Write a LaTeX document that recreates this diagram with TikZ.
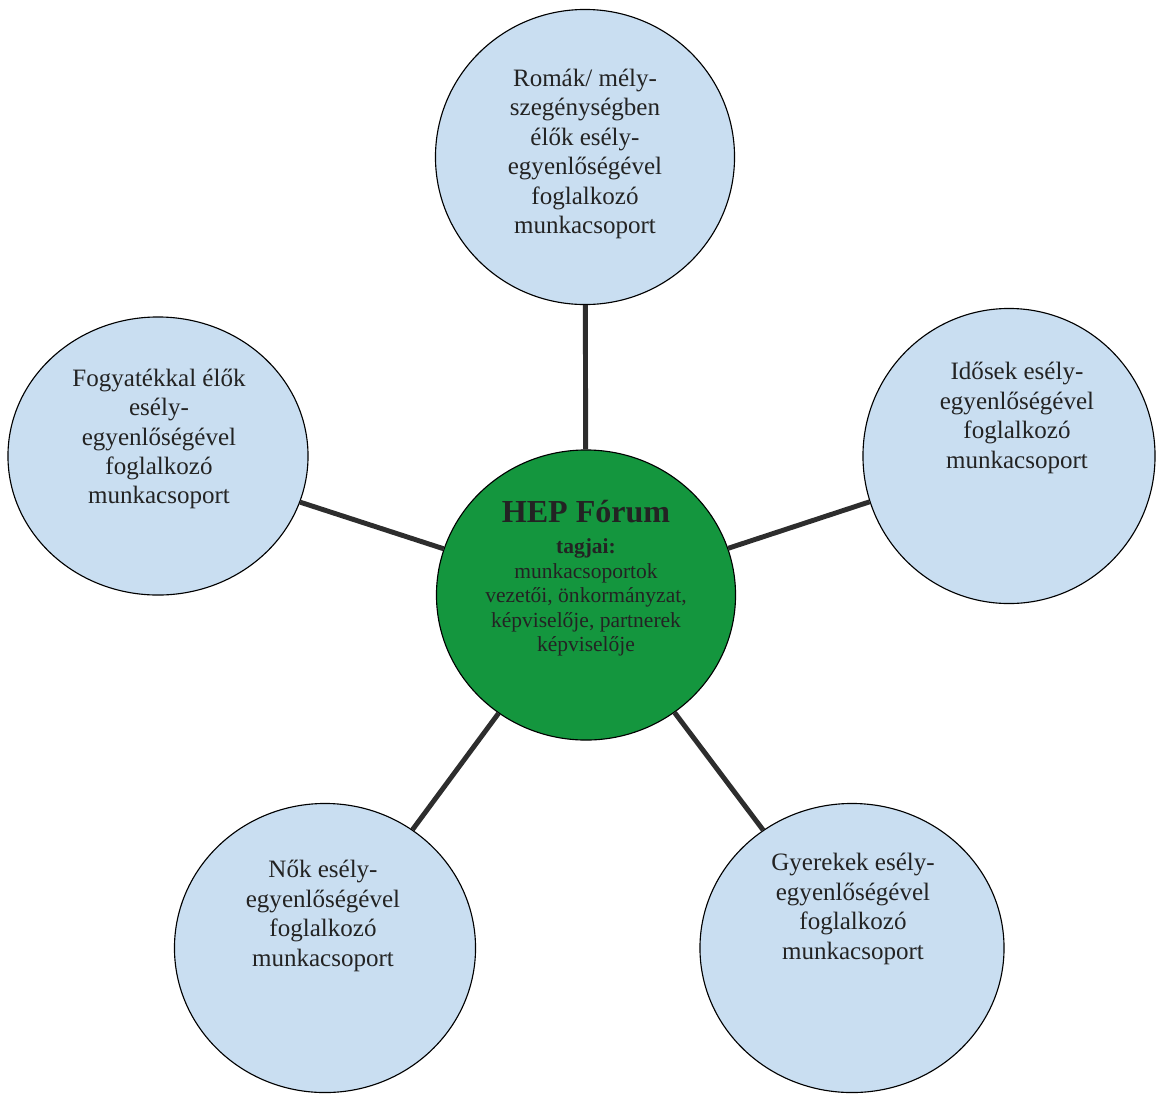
\documentclass[tikz,border=0pt]{standalone}
\usepackage{fontspec}
\setmainfont{Liberation Serif}
\usetikzlibrary{shapes.geometric}
\definecolor{grpblue}{RGB}{201,222,241}
\definecolor{hubgreen}{RGB}{20,150,62}
\definecolor{linkgray}{RGB}{45,45,45}
\definecolor{txtgray}{RGB}{35,35,35}
\begin{document}
\begin{tikzpicture}[x=0.025cm,y=-0.025cm,
  grp/.style={ellipse,draw,line width=0.8pt,fill=grpblue,inner sep=0pt},
  hubc/.style={ellipse,draw,line width=0.8pt,fill=hubgreen,inner sep=0pt,minimum width=7.475cm,minimum height=7.25cm},
  lbl/.style={align=center,text=txtgray,font=\fontsize{17.8}{20.9}\selectfont},
  hlbl/.style={align=center,text=txtgray,font=\fontsize{15.3}{17.4}\selectfont},
  link/.style={draw=linkgray,line width=3.5pt}]
  \useasboundingbox (0,0) rectangle (1156,1093);
  \node[hubc] (hub) at (586,595){};
  \node[grp,minimum width=7.475cm,minimum height=7.375cm] (roma) at (585,157){};
  \node[grp,minimum width=7.5cm,minimum height=6.95cm] (fogy) at (158,456){};
  \node[grp,minimum width=7.3cm,minimum height=7.375cm] (idos) at (1009,456){};
  \node[grp,minimum width=7.525cm,minimum height=7.225cm] (nok) at (325,948){};
  \node[grp,minimum width=7.6cm,minimum height=7.225cm] (gyer) at (852,948){};
  \draw[link] (hub) -- (roma);
  \draw[link] (hub) -- (fogy);
  \draw[link] (hub) -- (idos);
  \draw[link] (hub) -- (nok);
  \draw[link] (hub) -- (gyer);
  \node[lbl] (romat) at (585,154){Romák/ mély-\\szegénységben\\élők esély-\\egyenlőségével\\foglalkozó\\munkacsoport};
  \node[lbl] (fogyt) at (159,439){Fogyatékkal élők\\esély-\\egyenlőségével\\foglalkozó\\munkacsoport};
  \node[lbl] (idost) at (1017,418){Idősek esély-\\egyenlőségével\\foglalkozó\\munkacsoport};
  \node[lbl] (nokt) at (323,916){Nők esély-\\egyenlőségével\\foglalkozó\\munkacsoport};
  \node[lbl] (gyert) at (853,909){Gyerekek esély-\\egyenlőségével\\foglalkozó\\munkacsoport};
  \node[hlbl] (hubt) at (586,578){{\fontsize{22.8}{24}\selectfont\bfseries HEP Fórum}\\[5pt]\textbf{tagjai:}\\munkacsoportok\\vezetői, önkormányzat,\\képviselője, partnerek\\képviselője};
\end{tikzpicture}
\end{document}
